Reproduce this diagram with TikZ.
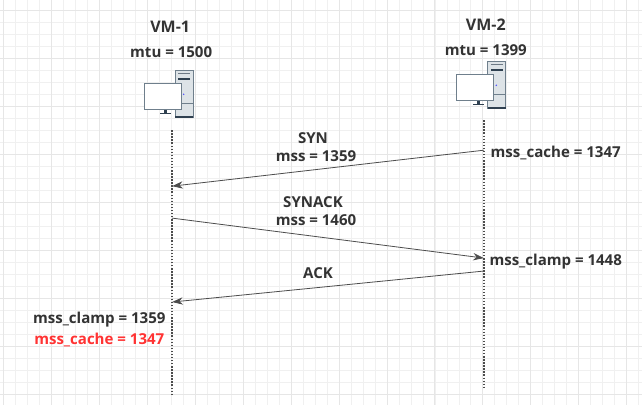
\documentclass[tikz,border=0pt]{standalone}
\usepackage{fontspec}
\setmainfont{Open Sans}
\usepackage{xcolor}
\usetikzlibrary{arrows.meta,positioning,calc}

\definecolor{gridminor}{HTML}{F0F0F0}
\definecolor{gridmajor}{HTML}{E6E6E6}
\definecolor{inktext}{HTML}{333333}
\definecolor{alertred}{HTML}{FF3333}
\definecolor{pcedge}{HTML}{6F7F8C}
\definecolor{pcdark}{HTML}{2F4050}
\definecolor{pcbody}{HTML}{DDE3E7}

\begin{document}
\begin{tikzpicture}[
    x=0.75pt,
    y=-0.75pt,
    >=Stealth,
    label/.style={
        inner sep=0pt,
        align=center,
        text=inktext,
        font=\fontsize{11.3}{13}\selectfont\bfseries
    },
    alert/.style={label, text=alertred},
    lifeline/.style={line width=1.1pt, dash pattern=on 1.1pt off 1.2pt, black!70},
    message/.style={-{Stealth[length=8pt,width=5.5pt]}, line width=0.6pt, black!70},
    vmicon/.pic={
        \fill[pcbody, draw=pcedge, line width=0.6pt] (0,0) rectangle (18,47);
        \fill[pcdark] (0,46) rectangle (18,47.5);
        \draw[pcdark!70, line width=0.5pt] (3,3) -- (15,3);
        \fill[pcdark] (3,8) rectangle (15,10);
        \draw[pcedge, line width=0.4pt] (0,33) -- (18,33);
        \fill[blue!70] (8.5,24) circle (0.8);
        \fill[pcdark] (-11,38) rectangle (-8,43);
        \draw[pcdark, line width=0.9pt] (-15,43.5) -- (-4,43.5);
        \fill[white, draw=pcedge, line width=0.9pt] (-31,13) rectangle (6,39);
    }
]

% grid
\fill[white] (0,0) rectangle (642,405);
\foreach \gx in {3,15,...,642} {\draw[gridminor, line width=0.5pt] (\gx,0) -- (\gx,405);}
\foreach \gy in {10,22,...,405} {\draw[gridminor, line width=0.5pt] (0,\gy) -- (642,\gy);}
\foreach \gx in {3,51,...,642} {\draw[gridmajor, line width=0.6pt] (\gx,0) -- (\gx,405);}
\foreach \gy in {10,58,...,405} {\draw[gridmajor, line width=0.6pt] (0,\gy) -- (642,\gy);}

% machines
\node[label, font=\fontsize{12}{14}\selectfont\bfseries] (vm1) at (170,26) {VM-1};
\node[label] (mtu1) at (171,52) {mtu = 1500};
\pic (pc1) at (175,70) {vmicon};
\node[label, font=\fontsize{12}{14}\selectfont\bfseries] (vm2) at (486,24) {VM-2};
\node[label] (mtu2) at (486,50) {mtu = 1399};
\pic (pc2) at (488,61) {vmicon};

% lifelines
\coordinate (top1) at (172,130);
\coordinate (bot1) at (172,396);
\coordinate (top2) at (484,120);
\coordinate (bot2) at (484,387);
\draw[lifeline] (top1) -- (bot1);
\draw[lifeline] (top2) -- (bot2);

% messages
\coordinate (synA) at (484,150);
\coordinate (synB) at (172,186);
\coordinate (ackSynA) at (172,218);
\coordinate (ackSynB) at (484,258);
\coordinate (ackA) at (484,271);
\coordinate (ackB) at (172,302);
\draw[message] (synA) -- (synB);
\draw[message] (ackSynA) -- (ackSynB);
\draw[message] (ackA) -- (ackB);

\node[label] (syn) at (313,137.5) {SYN};
\node[label] (synmss) at (316,156) {mss = 1359};
\node[label] (synack) at (313,202) {SYNACK};
\node[label] (synackmss) at (316,220) {mss = 1460};
\node[label] (ack) at (318,273) {ACK};

\node[label] (cache2) at (556,152.5) {mss\_cache = 1347};
\node[label] (clamp2) at (556,261.5) {mss\_clamp = 1448};
\node[label] (clamp1) at (99,319.5) {mss\_clamp = 1359};
\node[alert] (cache1) at (99,340) {mss\_cache = 1347};

\end{tikzpicture}
\end{document}
